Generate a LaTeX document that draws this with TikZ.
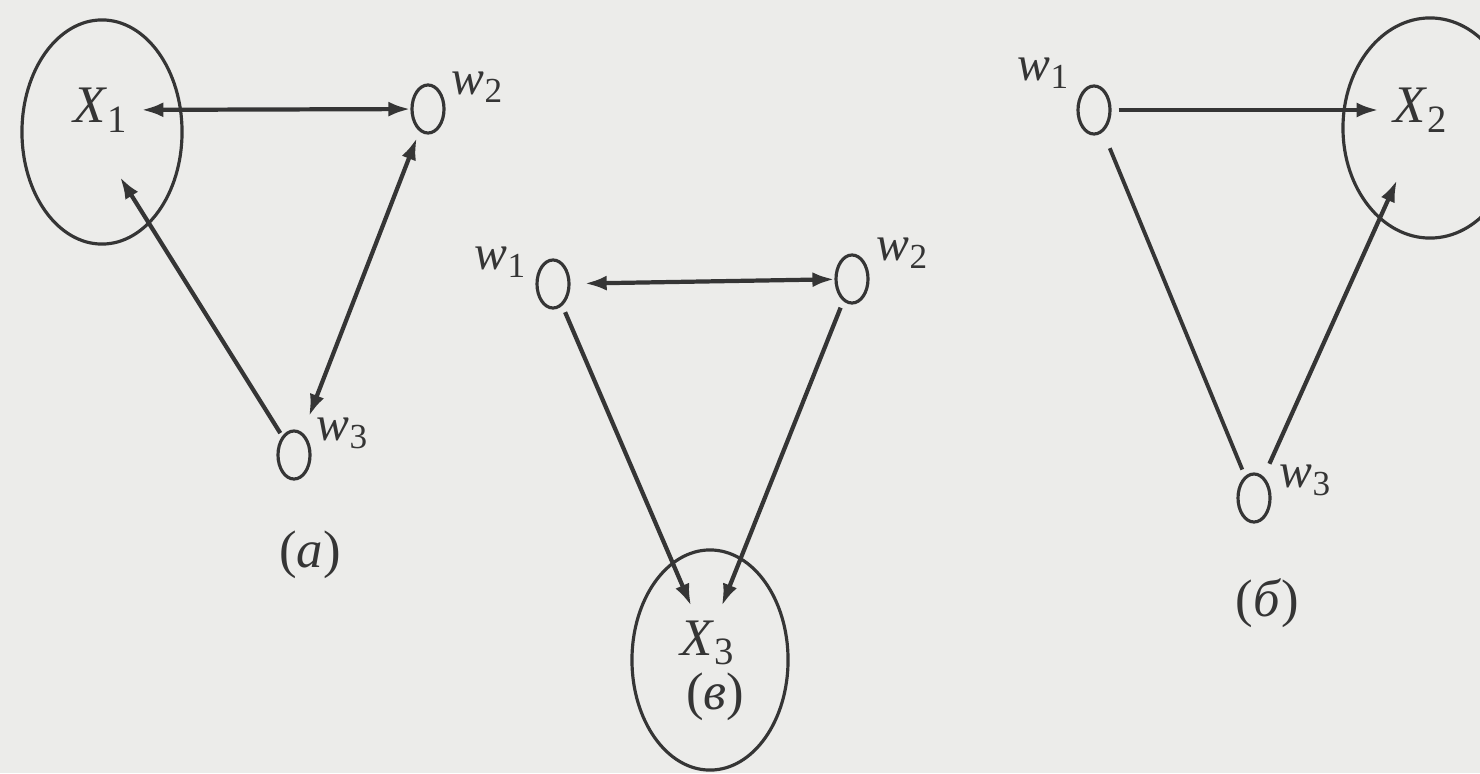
\documentclass[tikz,border=0pt]{standalone}
\usepackage{fontspec}
\setmainfont{Liberation Serif}
\newfontfamily\figserif{Liberation Serif}
\usetikzlibrary{arrows.meta, positioning, shapes.geometric}

\definecolor{ink}{HTML}{353535}
\definecolor{paper}{HTML}{ECECEA}
\newcommand{\wname}[1]{\textit{w}\raisebox{-0.35ex}{\fontsize{10}{10}\selectfont #1}}
\newcommand{\xname}[1]{\textit{X}\raisebox{-0.4ex}{\fontsize{11}{11}\selectfont #1}}

\tikzset{
  unit/.style={ellipse, draw=ink, line width=0.9pt, minimum width=0.32cm,
    minimum height=0.48cm, inner sep=0pt},
  bigset/.style={ellipse, draw=ink, line width=0.9pt, inner sep=0pt},
  setlab/.style={text=ink, font=\figserif\fontsize{15}{15}\selectfont, inner sep=4pt},
  wlab/.style={text=ink, font=\figserif\fontsize{14}{14}\selectfont, inner sep=1pt},
  caplab/.style={text=ink, font=\figserif\fontsize{15}{15}\selectfont, inner sep=1pt},
  conn/.style={draw=ink, line width=1.2pt},
  link/.style={draw=ink, line width=1.1pt}
}

\begin{document}
\begin{tikzpicture}[x=0.01cm, y=-0.01cm, >={Latex[length=2.2mm,width=1.5mm]}]
  \fill[paper] (0,0) rectangle (1480,773);
  \useasboundingbox (0,0) rectangle (1480,773);

  % Panel (a)
  \node[bigset, minimum width=1.6cm, minimum height=2.24cm] (setX1) at (102,132) {};
  \node[setlab] (X1) at (100,110) {\xname{1}};
  \node[unit] (a2) at (428,109) {};
  \node[unit] (a3) at (294,455) {};
  \node[wlab] (a2lab) at (477,87) {\wname{2}};
  \node[wlab] (a3lab) at (342,433) {\wname{3}};
  \node[caplab] (capA) at (310,555) {(\textit{a})};
  \coordinate (a-in) at (120,177);
  \draw[conn, <->] (X1) -- (a2);
  \draw[conn, ->, shorten <=1pt] (a3) -- (a-in);
  \draw[conn, <->, shorten <=2pt, shorten >=5pt] (a2) -- (a3);

  % Panel (v)
  \node[unit] (b1) at (553,284) {};
  \node[unit] (b2) at (852,279) {};
  \node[wlab] (b1lab) at (500,262) {\wname{1}};
  \node[wlab] (b2lab) at (902,253) {\wname{2}};
  \node[bigset, minimum width=1.56cm, minimum height=2.2cm] (setX3) at (710,660) {};
  \node[setlab] (X3) at (707,643) {\xname{3}};
  \node[caplab] (capV) at (715,697) {(\textit{в})};
  \draw[conn, <->, shorten <=4pt] (b1) -- (b2);
  \draw[conn, ->, shorten <=2pt] (b1) -- (X3);
  \draw[conn, ->, shorten <=2pt] (b2) -- (X3);

  % Panel (b)
  \node[unit] (c1) at (1094,110) {};
  \node[unit] (c3) at (1254,498) {};
  \node[wlab] (c1lab) at (1043,73) {\wname{1}};
  \node[wlab] (c3lab) at (1305,480) {\wname{3}};
  \node[bigset, minimum width=1.74cm, minimum height=2.2cm] (setX2) at (1430,128) {};
  \node[setlab] (X2) at (1420,110) {\xname{2}};
  \node[caplab] (capB) at (1267,603) {(\textit{б})};
  \coordinate (c-in) at (1397,180);
  \draw[conn, ->, shorten <=2pt] (c1) -- (X2);
  \draw[link, shorten <=5pt, shorten >=2pt] (c1) -- (c3);
  \draw[conn, ->, shorten <=4pt] (c3) -- (c-in);
\end{tikzpicture}
\end{document}
